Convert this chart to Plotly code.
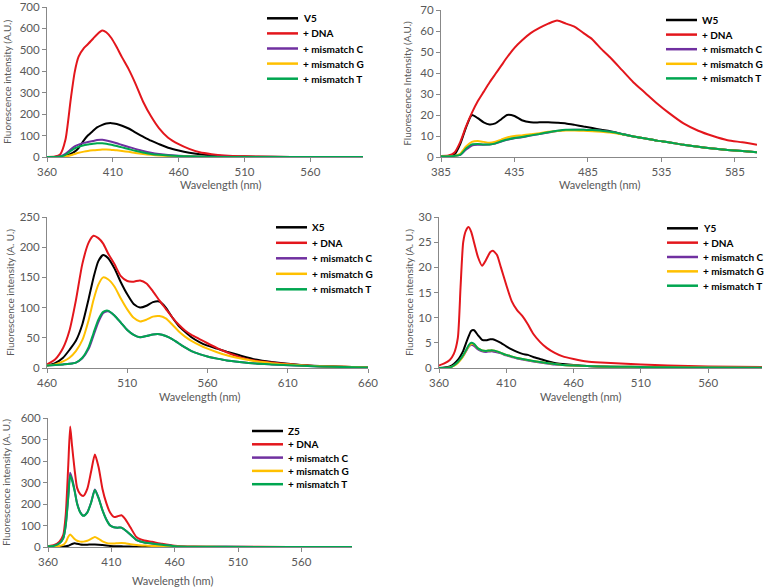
import plotly.graph_objects as go

# ---------------- data ----------------
series_labels = ["+ DNA", "+ mismatch C", "+ mismatch G", "+ mismatch T"]
x_title = "Wavelength (nm)"

# V5 panel
v5_wavelength = [360, 366, 370, 374, 378, 381, 384, 388, 391, 395, 398, 402, 405, 409, 413, 417, 422, 427,
                 433, 439, 445, 452, 460, 468, 476, 485, 495, 510, 530, 560, 600]
v5_probe = [0, 0, 1, 5, 15, 25, 42, 78, 100, 122, 138, 150, 156, 158, 154, 146, 133, 115,
            95, 76, 60, 43, 30, 20, 13, 8, 4, 2, 1, 0, 0]
v5_dna = [0, 2, 12, 80, 268, 395, 468, 508, 526, 552, 572, 590, 582, 554, 512, 465, 410, 345,
          258, 190, 135, 90, 60, 38, 22, 13, 7, 3, 1, 0, 0]
v5_mis_c = [0, 0, 3, 15, 35, 50, 58, 66, 70, 75, 79, 80, 77, 71, 64, 56, 47, 38,
            28, 20, 14, 9, 6, 4, 2, 1, 1, 0, 0, 0, 0]
v5_mis_g = [0, 0, 0, 3, 8, 14, 20, 25, 28, 31, 33, 35, 35, 33, 31, 28, 24, 19,
            14, 10, 7, 5, 3, 2, 1, 0, 0, 0, 0, 0, 0]
v5_mis_t = [0, 0, 2, 10, 28, 40, 48, 55, 58, 62, 64, 64, 62, 57, 51, 45, 37, 29,
            21, 14, 10, 7, 5, 3, 2, 1, 0, 0, 0, 0, 0]

# W5 panel
w5_wavelength = [385, 390, 394, 398, 402, 406, 410, 414, 418, 422, 426, 430, 435, 440, 446, 452, 458, 464,
                 470, 476, 482, 488, 494, 500, 508, 516, 524, 532, 540, 550, 560, 570, 580, 590, 600]
w5_probe = [0.5, 0.5, 1, 6, 14, 20, 18.5, 16.5, 15.5, 16, 18, 20, 19.5, 17.5, 16.5, 16.5, 16.5, 16.3,
            16, 15.3, 14.5, 13.8, 13, 12.3, 11, 9.8, 8.8, 7.8, 7, 5.8, 4.9, 4, 3.3, 2.8, 2.3]
w5_dna = [0.5, 0.7, 2, 7, 14.5, 21, 26.5, 31, 35.5, 39.5, 43.5, 47.5, 52, 55.5, 59, 61.5, 63.5, 65,
          63.5, 62, 59, 56, 51.5, 47.5, 41.5, 35.5, 30.5, 25.5, 21, 16, 12.5, 10, 8, 7, 5.8]
w5_mis_c = [0.3, 0.3, 0.5, 1, 3.5, 5.5, 5.8, 5.8, 5.9, 6.4, 7.4, 8.2, 8.9, 9.4, 10.2, 10.9, 11.7, 12.4,
            12.9, 13, 13, 12.8, 12.5, 12, 11, 9.8, 8.8, 7.8, 7, 5.8, 4.9, 4, 3.3, 2.8, 2.3]
w5_mis_g = [0.3, 0.3, 0.5, 1.5, 5, 7.2, 7.6, 7.2, 6.8, 7.3, 8.3, 9.3, 10, 10.3, 10.8, 11.3, 12, 12.4,
            12.6, 12.6, 12.5, 12.3, 12, 11.7, 10.8, 9.8, 8.8, 7.8, 7, 5.8, 4.9, 4, 3.3, 2.8, 2.3]
w5_mis_t = [0.3, 0.3, 0.5, 1, 4, 6, 6.2, 6, 6, 6.5, 7.5, 8.3, 9, 9.5, 10.3, 11, 11.8, 12.5,
            13, 13, 13, 12.8, 12.5, 12, 11, 9.8, 8.8, 7.8, 7, 5.8, 4.9, 4, 3.3, 2.8, 2.3]

# X5 panel
x5_wavelength = [460, 465, 470, 474, 478, 482, 486, 489, 492, 495, 498, 502, 506, 510, 514, 518, 522, 526,
                 530, 534, 538, 542, 546, 550, 555, 560, 566, 572, 580, 590, 600, 615, 630, 645, 660]
x5_probe = [4, 8, 17, 30, 45, 72, 115, 150, 177, 187, 182, 165, 142, 122, 106, 100, 103, 109,
            110, 100, 84, 70, 60, 51, 43, 37, 32, 27, 21, 14, 10, 6, 3.5, 2, 1]
x5_dna = [6, 14, 33, 62, 112, 172, 208, 219, 215, 206, 190, 172, 152, 144, 143, 145, 140, 127,
          112, 98, 84, 72, 62, 55, 48, 41, 33, 26, 18, 12, 9, 5.5, 3, 2, 1]
x5_mis_c = [4, 5, 6, 7, 9, 16, 32, 54, 76, 91, 94, 87, 75, 63, 55, 51, 53, 55.5,
            56, 53, 48, 41, 34, 28, 23, 19, 15.5, 12.5, 10, 7.5, 6, 4, 2.5, 1.5, 1]
x5_mis_g = [4, 6, 11, 17, 28, 46, 80, 113, 138, 150, 147, 135, 115, 97, 83, 77, 80, 85,
            86, 82, 72, 61, 52, 45, 38, 32, 26, 21, 16, 11, 8, 5, 3, 2, 1]
x5_mis_t = [4, 5, 6, 7, 9, 17, 35, 58, 80, 93, 95, 87, 75, 63, 55, 51, 53, 55.5,
            56, 53, 48, 41, 34, 28, 23, 19, 15.5, 12.5, 10, 7.5, 6, 4, 2.5, 1.5, 1]

# Y5 panel
y5_wavelength = [360, 364, 368, 371, 374, 376, 378, 380, 382, 384, 386, 389, 392, 395, 398, 400, 403, 406,
                 410, 414, 418, 422, 426, 430, 435, 440, 446, 452, 460, 470, 480, 495, 510, 530, 560, 600]
y5_probe = [0, 0.1, 0.3, 0.8, 1.6, 2.4, 3.4, 4.9, 6.3, 7.4, 7.5, 6.5, 5.6, 5.5, 5.7, 5.7, 5.4, 5,
            4.3, 3.7, 3.2, 2.8, 2.6, 2.2, 1.8, 1.4, 1.0, 0.8, 0.6, 0.4, 0.3, 0.2, 0.2, 0.1, 0.1, 0]
y5_dna = [0.5, 0.9, 1.6, 2.8, 6, 16, 25, 27.3, 28, 27, 25, 22, 20.3, 21.5, 23, 23.3, 22.5, 20,
          16.5, 13.3, 11.5, 10.3, 8.7, 6.8, 5.2, 4, 3, 2.3, 1.8, 1.3, 1.1, 0.9, 0.7, 0.5, 0.3, 0.2]
y5_mis_c = [0, 0, 0.1, 0.5, 1.1, 1.7, 2.4, 3.3, 4.2, 4.6, 4.4, 3.7, 3.3, 3.2, 3.3, 3.3, 3.1, 2.9,
            2.5, 2.2, 1.9, 1.7, 1.5, 1.3, 1.1, 0.9, 0.7, 0.6, 0.5, 0.4, 0.3, 0.25, 0.2, 0.15, 0.1, 0.05]
y5_mis_g = [0, 0, 0.1, 0.4, 1.0, 1.6, 2.4, 3.4, 4.3, 4.8, 4.7, 3.9, 3.5, 3.4, 3.5, 3.5, 3.3, 3,
            2.6, 2.3, 2, 1.8, 1.6, 1.4, 1.2, 1, 0.8, 0.6, 0.5, 0.4, 0.3, 0.25, 0.2, 0.15, 0.1, 0.05]
y5_mis_t = [0, 0, 0.1, 0.5, 1.2, 1.8, 2.6, 3.5, 4.5, 5, 4.8, 3.9, 3.5, 3.4, 3.5, 3.5, 3.3, 3,
            2.6, 2.3, 2, 1.8, 1.6, 1.4, 1.2, 1, 0.8, 0.6, 0.5, 0.4, 0.3, 0.25, 0.2, 0.15, 0.1, 0.05]

# Z5 panel
z5_wavelength = [360, 365, 369, 372, 374, 376, 377.5, 379, 381, 383, 385.5, 388, 391, 394, 397, 400, 403, 406,
                 409, 412, 415, 418, 421, 425, 430, 436, 442, 450, 460, 475, 500, 550, 600]
z5_probe = [1, 1, 1, 2, 3, 6, 10, 14, 17, 15, 12, 11, 11, 12, 12, 11, 9, 7,
            5, 4, 3.5, 3, 2.5, 2, 1.5, 1, 1, 0.5, 0.3, 0.2, 0.1, 0, 0]
z5_dna = [4, 10, 25, 55, 150, 380, 560, 470, 360, 275, 245, 238, 270, 350, 430, 370, 270, 205,
          160, 140, 143, 148, 130, 92, 45, 30, 24, 15, 6, 2, 1, 0.5, 0.3]
z5_mis_c = [3, 6, 17, 40, 102, 238, 345, 318, 265, 203, 162, 146, 161, 207, 268, 228, 172, 129,
            101, 92, 90, 90, 78, 58, 32, 21, 16, 10, 4, 1.5, 0.8, 0.3, 0.2]
z5_mis_g = [2, 3, 5, 10, 22, 48, 58, 50, 37, 29, 25, 25, 29, 38, 47, 38, 26, 19,
            16, 16, 18, 19, 17, 13, 9, 7, 5, 4, 2, 1, 0.5, 0.2, 0.1]
z5_mis_t = [3, 6, 17, 40, 100, 230, 333, 310, 260, 200, 160, 145, 160, 205, 265, 225, 170, 128,
            100, 92, 90, 90, 78, 58, 32, 21, 16, 10, 4, 1.5, 0.8, 0.3, 0.2]

v5_xticks = [360, 410, 460, 510, 560]
w5_xticks = [385, 435, 485, 535, 585]
x5_xticks = [460, 510, 560, 610, 660]
y5_xticks = [360, 410, 460, 510, 560]
z5_xticks = [360, 410, 460, 510, 560]

# ---------------- styling / layout ----------------
W, H = 768, 587
colors = ["#000000", "#e3161c", "#7030a0", "#ffc000", "#00a650"]
FONT = "Lato"
GREY = "#595959"
AXIS = "#888888"

panels = [
    dict(name="V5", wl=v5_wavelength, ys=[v5_probe, v5_dna, v5_mis_c, v5_mis_g, v5_mis_t],
         xr=[360, 600], yr=[0, 700], ydt=100, xt=v5_xticks,
         px=(47, 363), py=(7, 157), ytitle="Fluorescence intensity (A.U.)", ystand=6,
         xtitle_pos=(220, 184), leg=(267, 18.3, 15.1)),
    dict(name="W5", wl=w5_wavelength, ys=[w5_probe, w5_dna, w5_mis_c, w5_mis_g, w5_mis_t],
         xr=[385, 600], yr=[0, 70], ydt=10, xt=w5_xticks,
         px=(441, 757), py=(10, 157), ytitle="Fluorescence Intensity (A.U.)", ystand=6,
         xtitle_pos=(599, 184), leg=(666, 20, 14.6)),
    dict(name="X5", wl=x5_wavelength, ys=[x5_probe, x5_dna, x5_mis_c, x5_mis_g, x5_mis_t],
         xr=[460, 660], yr=[0, 250], ydt=50, xt=x5_xticks,
         px=(47, 368), py=(217, 368), ytitle="Fluorescence intensity (A. U.)", ystand=3,
         xtitle_pos=(199, 396), leg=(276, 227.3, 15.5)),
    dict(name="Y5", wl=y5_wavelength, ys=[y5_probe, y5_dna, y5_mis_c, y5_mis_g, y5_mis_t],
         xr=[360, 600], yr=[0, 30], ydt=5, xt=y5_xticks,
         px=(439, 762), py=(217, 368), ytitle="Fluorescence intensity (A. U.)", ystand=2,
         xtitle_pos=(580, 396), leg=(667, 228.3, 14.35)),
    dict(name="Z5", wl=z5_wavelength, ys=[z5_probe, z5_dna, z5_mis_c, z5_mis_g, z5_mis_t],
         xr=[360, 600], yr=[0, 600], ydt=100, xt=z5_xticks,
         px=(48, 352), py=(418, 547), ytitle="Fluorescence intensity (A. U.)", ystand=12,
         xtitle_pos=(172, 580), leg=(252, 431, 13.3)),
]

fig = go.Figure()
layout = dict(
    template="none",
    width=W, height=H, margin=dict(l=0, r=0, t=0, b=0),
    paper_bgcolor="white", plot_bgcolor="white",
    font=dict(family=FONT, size=11, color=GREY),
    showlegend=False,
)
shapes = []
annotations = []

for i, p in enumerate(panels):
    k = "" if i == 0 else str(i + 1)
    labels = [p["name"]] + series_labels
    for j, (yv, lab) in enumerate(zip(p["ys"], labels)):
        fig.add_trace(go.Scatter(
            x=p["wl"], y=yv, name=lab, mode="lines",
            line=dict(color=colors[j], width=2, shape="spline", smoothing=0.6),
            xaxis="x" + k, yaxis="y" + k,
        ))
    x0, x1 = p["px"]
    y0, y1 = p["py"]
    layout["xaxis" + k] = dict(
        domain=[x0 / W, x1 / W], anchor="y" + k, range=p["xr"], automargin=False,
        tickvals=p["xt"], ticks="outside", ticklen=4, tickcolor=AXIS,
        showline=True, linecolor=AXIS, linewidth=1, showgrid=False, zeroline=False,
        ticklabeloverflow="allow",
        tickfont=dict(family=FONT, size=11.5, color=GREY),
    )
    layout["yaxis" + k] = dict(
        domain=[1 - y1 / H, 1 - y0 / H], anchor="x" + k, range=p["yr"], automargin=False,
        tick0=0, dtick=p["ydt"], ticks="outside", ticklen=4, tickcolor=AXIS,
        showline=True, linecolor=AXIS, linewidth=1, showgrid=False, zeroline=False,
        ticklabeloverflow="allow",
        tickfont=dict(family=FONT, size=11.5, color=GREY),
        title=dict(text=p["ytitle"], font=dict(family=FONT, size=10, color=GREY),
                   standoff=p["ystand"]),
    )
    # x-axis title, placed where the reference centres it
    tx, ty = p["xtitle_pos"]
    annotations.append(dict(xref="paper", yref="paper", x=tx / W, y=1 - ty / H,
                            xanchor="center", yanchor="middle", showarrow=False,
                            text=x_title, font=dict(family=FONT, size=11, color=GREY)))
    # legend box (top-right of each panel)
    lx, ly, step = p["leg"]
    for j, lab in enumerate(labels):
        yy = 1 - (ly + j * step) / H
        shapes.append(dict(type="line", xref="paper", yref="paper",
                           x0=lx / W, x1=(lx + 31) / W, y0=yy, y1=yy,
                           line=dict(color=colors[j], width=2.5)))
        annotations.append(dict(xref="paper", yref="paper", x=(lx + 34) / W, y=yy,
                                xanchor="left", yanchor="middle", showarrow=False,
                                text="<b>" + lab + "</b>",
                                font=dict(family=FONT, size=10, color="#000000")))

layout["shapes"] = shapes
layout["annotations"] = annotations
fig.update_layout(**layout)
fig.write_html(
    "out.html",
    config={"displayModeBar": False},
    post_script="document.body.style.margin='0';document.body.style.overflow='hidden';",
)
